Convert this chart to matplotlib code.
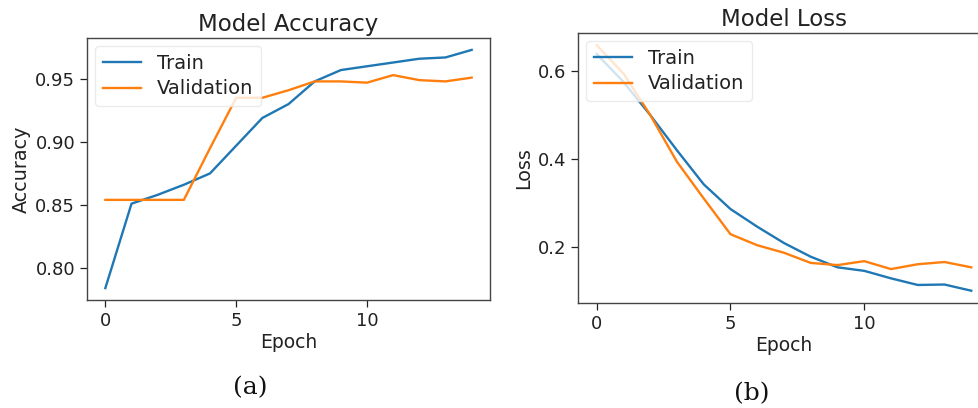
import matplotlib
matplotlib.use("Agg")
import matplotlib.pyplot as plt
import numpy as np

# Training history (15 epochs)
epochs = list(range(15))
train_acc = [0.784, 0.851, 0.858, 0.866, 0.875, 0.897, 0.919, 0.930, 0.948,
             0.957, 0.960, 0.963, 0.966, 0.967, 0.973]
val_acc = [0.854, 0.854, 0.854, 0.854, 0.895, 0.935, 0.935, 0.941, 0.948,
           0.948, 0.947, 0.953, 0.949, 0.948, 0.951]
train_loss = [0.638, 0.575, 0.500, 0.420, 0.343, 0.287, 0.247, 0.210, 0.179,
              0.155, 0.147, 0.130, 0.115, 0.116, 0.102]
val_loss = [0.658, 0.594, 0.500, 0.394, 0.311, 0.230, 0.205, 0.188, 0.165,
            0.160, 0.169, 0.151, 0.162, 0.167, 0.155]

series_names = ["Train", "Validation"]
captions = ["(a)", "(b)"]

plt.rcParams["font.family"] = "DejaVu Sans"
fig = plt.figure(figsize=(9.79, 4.08), dpi=100)

ax1 = fig.add_axes([0.0889, 0.2647, 0.5005 - 0.0889, 0.9069 - 0.2647])
ax2 = fig.add_axes([0.5904, 0.2574, 1.0112 - 0.5904, 0.9191 - 0.2574])

panels = [
    (ax1, train_acc, val_acc, "Model Accuracy", "Accuracy"),
    (ax2, train_loss, val_loss, "Model Loss", "Loss"),
]

for ax, tr, va, title, ylabel in panels:
    ax.plot(epochs, tr, color="#1f77b4", lw=1.7, label=series_names[0])
    ax.plot(epochs, va, color="#ff7f0e", lw=1.7, label=series_names[1])
    ax.set_title(title, fontsize=16.5, color="#222222", pad=5)
    ax.set_xlabel("Epoch", fontsize=13.5, color="#222222", labelpad=2)
    ax.set_ylabel(ylabel, fontsize=13.8, color="#222222", labelpad=3)
    ax.tick_params(labelsize=13, colors="#222222", length=5, width=0.9)
    for sp in ax.spines.values():
        sp.set_color("#444444")
        sp.set_linewidth(1.0)
    ax.set_xticks([0, 5, 10])
    leg = ax.legend(loc="upper left", fontsize=14, framealpha=0.8,
                    borderaxespad=0.4, handlelength=2.0, labelspacing=0.35)
    leg.get_frame().set_edgecolor("#e6e6e6")
    for t in leg.get_texts():
        t.set_color("#222222")

ax1.set_yticks([0.80, 0.85, 0.90, 0.95])
ax2.set_yticks([0.2, 0.4, 0.6])

fig.text(250 / 979, 1 - 388 / 408, captions[0], ha="center", va="center",
         fontsize=18, family="DejaVu Serif", color="#111111")
fig.text(752 / 979, 1 - 394 / 408, captions[1], ha="center", va="center",
         fontsize=18, family="DejaVu Serif", color="#111111")

fig.savefig("out.png", dpi=100)
